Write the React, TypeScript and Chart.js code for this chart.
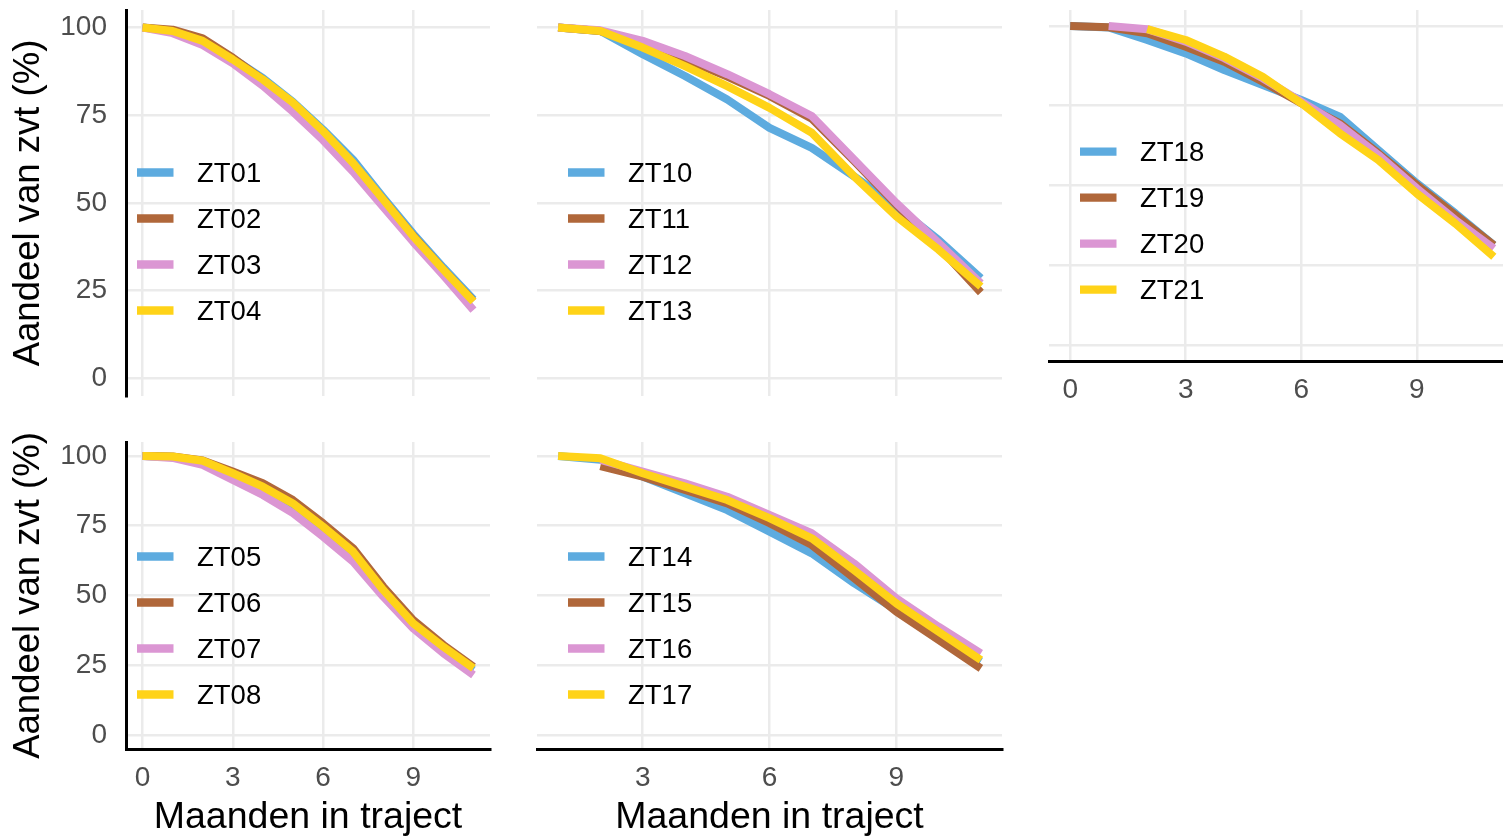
import React, { useEffect, useRef } from "react";
import { Chart, registerables } from "chart.js";

Chart.register(...registerables);

const FONT = "'Liberation Sans', Arial, Helvetica, sans-serif";
const CANVAS_W = 1530;
const CANVAS_H = 837;
const GRID = "#EBEBEB";
const TICK = "#4D4D4D";
const COLORS = ["#5DABDF", "#B0673A", "#DB96D3", "#FFD318"];

// Months in the trajectory, depending on the first month that was observed
const MONTHS_FROM_0 = [0, 1, 2, 3, 4, 5, 6, 7, 8, 9, 10, 11];
const MONTHS_FROM_1 = [1, 2, 3, 4, 5, 6, 7, 8, 9, 10, 11];
const MONTHS_FROM_2 = [2, 3, 4, 5, 6, 7, 8, 9, 10, 11];

const X_TICKS_FULL = [0, 3, 6, 9];
const X_TICKS_LATE = [3, 6, 9];
const Y_TICKS = [0, 25, 50, 75, 100];

// Share of zvt still in the trajectory (%)
const ZT01 = [100, 99.0, 96.5, 91.2, 85.6, 78.8, 70.9, 62.3, 51.6, 41.2, 31.6, 22.5];
const ZT02 = [100, 99.4, 96.9, 91.4, 85.1, 78.2, 70.2, 61.1, 51.0, 40.6, 31.0, 22.0];
const ZT03 = [100, 98.4, 95.0, 89.8, 83.4, 76.0, 67.9, 58.9, 48.9, 38.9, 29.4, 19.5];
const ZT04 = [100, 99.0, 96.2, 90.9, 85.2, 78.6, 70.5, 61.4, 51.0, 40.5, 31.0, 21.9];

const ZT05 = [100, 99.6, 97.7, 92.6, 87.2, 81.2, 72.9, 63.9, 50.8, 39.5, 30.5, 23.3];
const ZT06 = [100, 99.8, 98.4, 94.4, 90.2, 84.2, 75.9, 66.9, 53.2, 41.2, 32.3, 24.5];
const ZT07 = [100, 99.3, 96.8, 91.4, 86.0, 79.5, 71.1, 62.1, 49.6, 38.2, 29.3, 21.5];
const ZT08 = [100, 99.8, 98.3, 93.8, 89.0, 83.0, 74.7, 65.7, 52.0, 40.0, 31.6, 23.9];

const ZT10 = [100, 99.0, 92.4, 86.2, 79.5, 71.4, 65.7, 57.6, 49.0, 39.5, 28.6];
const ZT11 = [100, 99.0, 95.5, 91.0, 86.0, 80.5, 74.0, 62.0, 49.5, 37.5, 24.5];
const ZT12 = [100, 99.2, 96.2, 91.9, 86.7, 81.0, 74.8, 62.4, 50.0, 38.6, 27.1];
const ZT13 = [100, 99.0, 94.3, 89.0, 83.3, 77.1, 70.0, 57.6, 46.2, 36.7, 26.2];

const ZT14 = [100, 98.6, 92.6, 86.6, 80.6, 72.9, 65.1, 54.4, 44.8, 35.2, 26.4];
const ZT15 = [96.4, 92.6, 87.8, 83.0, 75.9, 68.1, 56.2, 44.2, 34.1, 23.9];
const ZT16 = [98.6, 94.4, 90.2, 85.4, 78.9, 72.3, 61.5, 49.0, 38.8, 29.3];
const ZT17 = [100, 99.2, 93.8, 89.0, 84.2, 77.7, 70.5, 59.1, 47.2, 37.0, 26.9];

const ZT18 = [100, 99.5, 95.6, 91.4, 86.2, 81.5, 76.8, 71.6, 61.1, 50.7, 41.3, 31.3];
const ZT19 = [100, 99.6, 97.7, 93.5, 88.8, 82.5, 75.8, 69.5, 60.1, 50.2, 40.8, 31.3];
const ZT20 = [100, 99.0, 95.1, 89.9, 83.6, 76.3, 69.0, 59.6, 49.1, 39.2, 30.3];
const ZT21 = [99.0, 95.6, 90.4, 84.1, 75.8, 66.4, 58.0, 47.5, 38.1, 27.7];

type Series = { label: string; months: number[]; values: number[] };

type PanelSpec = {
  series: Series[];
  xMin: number;
  xMax: number;
  xTicks: number[];
  area: { left: number; top: number; right: number; bottom: number };
  yLabels: boolean;
  xLabels: boolean;
  xTitle: boolean;
  yLine: boolean;
  xLine: boolean;
  legend: { x: number; y: number };
};

const PANELS: PanelSpec[] = [
  {
    series: [
      { label: "ZT01", months: MONTHS_FROM_0, values: ZT01 },
      { label: "ZT02", months: MONTHS_FROM_0, values: ZT02 },
      { label: "ZT03", months: MONTHS_FROM_0, values: ZT03 },
      { label: "ZT04", months: MONTHS_FROM_0, values: ZT04 },
    ],
    xMin: -0.55, xMax: 11.55, xTicks: X_TICKS_FULL,
    area: { left: 126, top: 10, right: 490, bottom: 396 },
    yLabels: true, xLabels: false, xTitle: false, yLine: true, xLine: false,
    legend: { x: 137, y: 172.5 },
  },
  {
    series: [
      { label: "ZT10", months: MONTHS_FROM_1, values: ZT10 },
      { label: "ZT11", months: MONTHS_FROM_1, values: ZT11 },
      { label: "ZT12", months: MONTHS_FROM_1, values: ZT12 },
      { label: "ZT13", months: MONTHS_FROM_1, values: ZT13 },
    ],
    xMin: 0.5, xMax: 11.5, xTicks: X_TICKS_LATE,
    area: { left: 537, top: 10, right: 1002, bottom: 396 },
    yLabels: false, xLabels: false, xTitle: false, yLine: false, xLine: false,
    legend: { x: 568, y: 172.5 },
  },
  {
    series: [
      { label: "ZT18", months: MONTHS_FROM_0, values: ZT18 },
      { label: "ZT19", months: MONTHS_FROM_0, values: ZT19 },
      { label: "ZT20", months: MONTHS_FROM_1, values: ZT20 },
      { label: "ZT21", months: MONTHS_FROM_2, values: ZT21 },
    ],
    xMin: -0.55, xMax: 11.55, xTicks: X_TICKS_FULL,
    area: { left: 1049, top: 10, right: 1515, bottom: 361 },
    yLabels: false, xLabels: true, xTitle: false, yLine: false, xLine: true,
    legend: { x: 1080, y: 151.7 },
  },
  {
    series: [
      { label: "ZT05", months: MONTHS_FROM_0, values: ZT05 },
      { label: "ZT06", months: MONTHS_FROM_0, values: ZT06 },
      { label: "ZT07", months: MONTHS_FROM_0, values: ZT07 },
      { label: "ZT08", months: MONTHS_FROM_0, values: ZT08 },
    ],
    xMin: -0.55, xMax: 11.55, xTicks: X_TICKS_FULL,
    area: { left: 126, top: 442, right: 490, bottom: 749 },
    yLabels: true, xLabels: true, xTitle: true, yLine: true, xLine: true,
    legend: { x: 137, y: 556.5 },
  },
  {
    series: [
      { label: "ZT14", months: MONTHS_FROM_1, values: ZT14 },
      { label: "ZT15", months: MONTHS_FROM_2, values: ZT15 },
      { label: "ZT16", months: MONTHS_FROM_2, values: ZT16 },
      { label: "ZT17", months: MONTHS_FROM_1, values: ZT17 },
    ],
    xMin: 0.5, xMax: 11.5, xTicks: X_TICKS_LATE,
    area: { left: 537, top: 442, right: 1002, bottom: 749 },
    yLabels: false, xLabels: true, xTitle: true, yLine: false, xLine: true,
    legend: { x: 568, y: 556.5 },
  },
];

// Legend drawn inside the panel: a short thick key line followed by the label
const insideLegend = {
  id: "insideLegend",
  afterDraw(chart: any, _args: any, opts: any) {
    const { ctx } = chart;
    ctx.save();
    chart.data.datasets.forEach((ds: any, i: number) => {
      const y = opts.y + i * opts.rowGap;
      ctx.strokeStyle = ds.borderColor;
      ctx.lineWidth = opts.keyThickness;
      ctx.lineCap = "butt";
      ctx.beginPath();
      ctx.moveTo(opts.x, y);
      ctx.lineTo(opts.x + opts.keyWidth, y);
      ctx.stroke();
      ctx.fillStyle = "#000000";
      ctx.font = `${opts.fontSize}px ${FONT}`;
      ctx.textAlign = "left";
      ctx.textBaseline = "middle";
      ctx.fillText(ds.label, opts.x + opts.textOffset, y + opts.textDy);
    });
    ctx.restore();
  },
};

function Panel({ spec }: { spec: PanelSpec }) {
  const ref = useRef<HTMLCanvasElement | null>(null);

  useEffect(() => {
    if (!ref.current) return;
    const yW = spec.yLabels ? 119 : 0;
    const xH = spec.xTitle ? 88 : spec.xLabels ? 50 : 0;
    const { area } = spec;
    const chart = new Chart(ref.current, {
      type: "line",
      data: {
        datasets: spec.series.map((s, i) => ({
          label: s.label,
          data: s.months.map((m, k) => ({ x: m, y: s.values[k] })),
          borderColor: COLORS[i],
          backgroundColor: COLORS[i],
          borderWidth: 8,
          pointRadius: 0,
          pointHoverRadius: 0,
          tension: 0,
          fill: false,
          borderJoinStyle: "round",
          borderCapStyle: "butt",
          order: spec.series.length - 1 - i,
        })),
      },
      plugins: [insideLegend],
      options: {
        responsive: false,
        animation: false,
        events: [],
        layout: {
          padding: {
            left: area.left - yW,
            top: area.top,
            right: CANVAS_W - area.right,
            bottom: CANVAS_H - area.bottom - xH,
          },
        },
        plugins: {
          legend: { display: false },
          tooltip: { enabled: false },
          insideLegend: {
            x: spec.legend.x,
            y: spec.legend.y,
            rowGap: 46,
            keyWidth: 36.5,
            keyThickness: 8.3,
            textOffset: 60,
            textDy: 1.5,
            fontSize: 27.5,
          },
        } as any,
        scales: {
          x: {
            type: "linear",
            min: spec.xMin,
            max: spec.xMax,
            afterBuildTicks: (s: any) => {
              s.ticks = spec.xTicks.map((v) => ({ value: v }));
            },
            afterFit: (s: any) => {
              s.height = xH;
              s.paddingLeft = 0;
              s.paddingRight = 0;
              s.paddingTop = 0;
              s.paddingBottom = 0;
            },
            grid: { color: GRID, lineWidth: 2.5, drawTicks: false },
            border: { display: spec.xLine, color: "#000000", width: 3 },
            ticks: {
              display: spec.xLabels,
              color: TICK,
              font: { family: FONT, size: 28 },
              padding: 12,
              maxRotation: 0,
              autoSkip: false,
            },
            title: {
              display: spec.xTitle,
              text: "Maanden in traject",
              color: "#000000",
              font: { family: FONT, size: 37.5 },
              padding: { top: 0, bottom: -3 },
            },
          },
          y: {
            type: "linear",
            min: -5,
            max: 105,
            afterBuildTicks: (s: any) => {
              s.ticks = Y_TICKS.map((v) => ({ value: v }));
            },
            afterFit: (s: any) => {
              s.width = yW;
              s.paddingLeft = 0;
              s.paddingRight = 0;
              s.paddingTop = 0;
              s.paddingBottom = 0;
            },
            grid: { color: GRID, lineWidth: 2.5, drawTicks: false },
            border: { display: spec.yLine, color: "#000000", width: 3 },
            ticks: {
              display: spec.yLabels,
              color: TICK,
              font: { family: FONT, size: 28 },
              padding: 19,
            },
            title: {
              display: spec.yLabels,
              text: "Aandeel van zvt (%)",
              color: "#000000",
              font: { family: FONT, size: 36.5 },
              padding: 0,
            },
          },
        },
      } as any,
    });
    return () => chart.destroy();
  }, [spec]);

  return (
    <canvas
      ref={ref}
      width={CANVAS_W}
      height={CANVAS_H}
      style={{ position: "absolute", left: 0, top: 0, width: CANVAS_W, height: CANVAS_H }}
    />
  );
}

export default function App() {
  return (
    <div
      style={{
        position: "fixed",
        left: 0,
        top: 0,
        width: 1503,
        height: 837,
        overflow: "hidden",
        background: "#FFFFFF",
      }}
    >
      {PANELS.map((p, i) => (
        <Panel key={i} spec={p} />
      ))}
    </div>
  );
}
